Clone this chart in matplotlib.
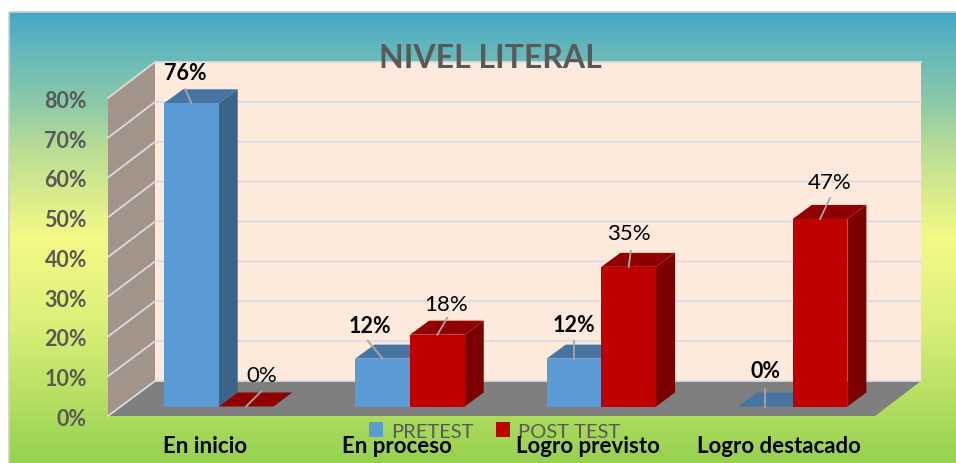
import numpy as np
import matplotlib.pyplot as plt
from matplotlib.colors import LinearSegmentedColormap
from matplotlib.patches import Polygon, Rectangle

# Data
categories = ["En inicio", "En proceso", "Logro previsto", "Logro destacado"]
pretest = [76, 12, 12, 0]
post_test = [0, 18, 35, 47]
y_ticks = [0, 10, 20, 30, 40, 50, 60, 70, 80]

W, H = 956, 464
STEP = 191.33       # px per category
X0 = 164            # px of first bar's left edge
Y0 = 407.5          # px of value 0 on the bars
PX_PER_PCT = 3.99
BAR_W = 54.7 / STEP

plt.rcParams["font.family"] = ["Lato", "DejaVu Sans"]

fig = plt.figure(figsize=(W / 100, H / 100), dpi=100, facecolor="white")

# Background gradient
bg = fig.add_axes([0, 0, 1, 1], zorder=0)
bg.axis("off")
cmap = LinearSegmentedColormap.from_list("bg", [
    (0.0, "#45A8C8"), (0.1, "#6ABAB9"), (0.2, "#8CC9A8"), (0.3, "#B8DC95"), (0.5, "#F5F985"),
    (0.68, "#DDF07A"), (1.0, "#96D14F")])
grad = np.linspace(0, 1, 256).reshape(-1, 1)
bg.imshow(grad, cmap=cmap, aspect="auto", extent=[9, W, H, 13], zorder=1)
bg.set_xlim(0, W)
bg.set_ylim(H, 0)
bg.add_patch(Rectangle((9, 13), W, H, fill=False, edgecolor="#CFCFCF", linewidth=1.2, zorder=2))

# Main axes: x in category units, y in percent
ax = fig.add_axes([0, 0, 1, 1], zorder=1)
ax.set_xlim(-X0 / STEP, (W - X0) / STEP)
ax.set_ylim((Y0 - H) / PX_PER_PCT, Y0 / PX_PER_PCT)
ax.axis("off")


def dx(px):
    return px / STEP


def dy(px):
    return px / PX_PER_PCT


def to_x(px):
    return (px - X0) / STEP


def to_y(py):
    return (Y0 - py) / PX_PER_PCT


def poly(points_px, color, z):
    pts = [(to_x(a), to_y(b)) for a, b in points_px]
    ax.add_patch(Polygon(pts, closed=True, facecolor=color, linewidth=0, zorder=z))


# Walls and floor
WALL_L, WALL_R = 155, 921
FRONT_L, FRONT_R = 108, 875
BACK_0, BACK_80 = 382, 63
FRONT_0, FRONT_80 = 417, 99
poly([(WALL_L, BACK_80), (WALL_R, BACK_80), (WALL_R, BACK_0), (WALL_L, BACK_0)], "#FEEADD", 1)
poly([(FRONT_L, FRONT_80), (WALL_L, BACK_80), (WALL_L, BACK_0), (FRONT_L, FRONT_0)], "#A39489", 1)
poly([(FRONT_L, FRONT_0), (WALL_L, BACK_0), (WALL_R, BACK_0), (FRONT_R, FRONT_0)], "#7F7F7F", 1)

for t in y_ticks:
    by = BACK_0 + (BACK_80 - BACK_0) * t / 80
    fy = FRONT_0 + (FRONT_80 - FRONT_0) * t / 80
    ax.plot([to_x(FRONT_L), to_x(WALL_L), to_x(WALL_R)], [to_y(fy), to_y(by), to_y(by)],
            color="#D9DBE2", linewidth=1.3, zorder=2, solid_joinstyle="miter")
    ax.text(to_x(87), to_y(fy + 2.5), f"{t}%", ha="right", va="center", fontsize=15.5,
            fontweight="bold", color="#595959", zorder=6)

# 3D bars
DEPTH_X, DEPTH_Y = 19, 14


def draw_bars(xs, values, front, top, side, label, z):
    bars = ax.bar(xs, values, BAR_W, align="edge", color=front, linewidth=0, zorder=z + 0.2, label=label)
    for x, v in zip(xs, values):
        x1, x2 = x, x + BAR_W
        ddx, ddy = dx(DEPTH_X), dy(DEPTH_Y)
        ax.add_patch(Polygon([(x1, v), (x1 + ddx, v + ddy), (x2 + ddx, v + ddy), (x2, v)],
                             facecolor=top, linewidth=0, zorder=z))
        if v > 0:
            ax.add_patch(Polygon([(x2, 0), (x2 + ddx, ddy), (x2 + ddx, v + ddy), (x2, v)],
                                 facecolor=side, linewidth=0, zorder=z))
    return bars


xs_pre = np.arange(len(categories), dtype=float)
xs_post = xs_pre + BAR_W
bars_pre = draw_bars(xs_pre, pretest, "#5B9BD5", "#4775A2", "#3A6488", "PRETEST", 3)
bars_post = draw_bars(xs_post, post_test, "#C00000", "#900000", "#7B0000", "POST TEST", 4)

# Data labels with leader lines (offsets in px from bar top centre)
pre_offsets = [((-6, 14), (-6, 31)), ((-15, 18), (-13, 33)), ((0, 18), (0, 34)), ((0, 18), (0, 36))]
post_offsets = [((15, 15), (16, 31)), ((10, 17), (9, 31)), ((2, 16), (0, 34)), ((10, 21), (10, 37))]


def draw_labels(xs, values, offsets, bold):
    for x, v, (line_off, text_off) in zip(xs, values, offsets):
        cx = x + BAR_W / 2
        ax.plot([cx, cx + dx(line_off[0])], [v, v + dy(line_off[1])], color="#A6A6A6",
                linewidth=1.3, zorder=5)
        ax.text(cx + dx(text_off[0]), v + dy(text_off[1]), f"{v}%", ha="center", va="center",
                fontsize=15.5 if bold else 16, fontweight="bold" if bold else "normal",
                color="black", zorder=6)


draw_labels(xs_pre, pretest, pre_offsets, True)
draw_labels(xs_post, post_test, post_offsets, False)

# Category labels
for x, name in zip(xs_post, categories):
    ax.text(x - 0.07, to_y(447), name, ha="center", va="center", fontsize=16,
            fontweight="bold", color="black", zorder=7)

# Legend
leg = ax.legend(handles=[bars_pre, bars_post], loc="center", ncol=2, frameon=False,
                bbox_to_anchor=(494.5 / W, 1 - 432 / H), fontsize=14.5, labelcolor="#595959",
                handlelength=0.7, handleheight=0.7, handletextpad=0.4, columnspacing=1.14,
                borderpad=0, borderaxespad=0)
leg.set_zorder(6)

# Title
ax.text(to_x(490), to_y(59), "NIVEL LITERAL", ha="center", va="center", fontsize=23,
        fontweight="bold", color="#595959", zorder=7)

fig.savefig("out.png", dpi=100)
